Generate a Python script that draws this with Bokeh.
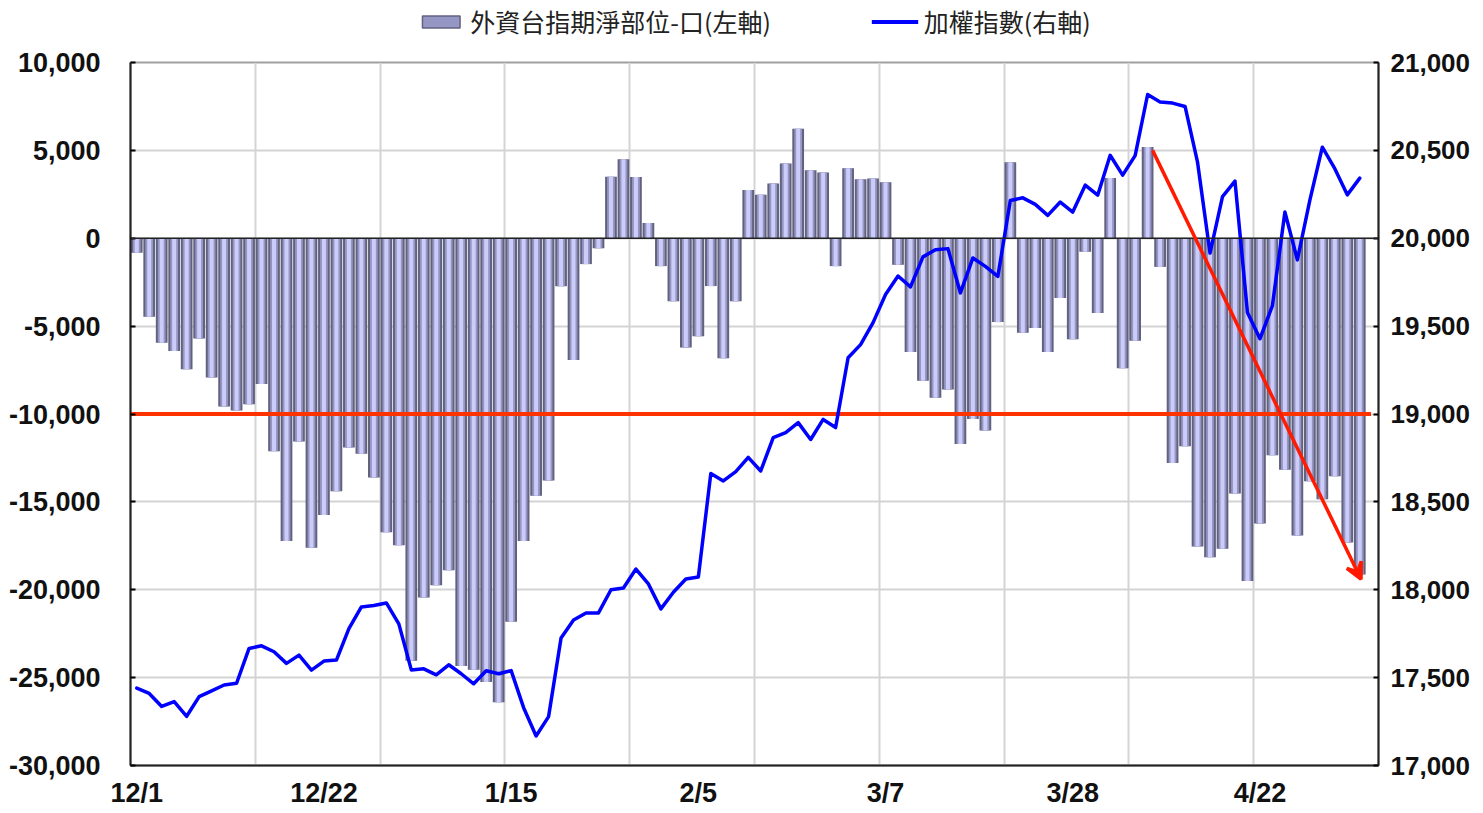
from bokeh.plotting import figure
from bokeh.layouts import column
from bokeh.models import (Range1d, LinearAxis, FixedTicker, NumeralTickFormatter,
                          Legend, LegendItem, Span, Arrow, VeeHead, ColumnDataSource)
from bokeh.embed import file_html
from bokeh.resources import INLINE

# ---------------- data ----------------
tick_labels = ["12/1", "12/22", "1/15", "2/5", "3/7", "3/28", "4/22"]
tick_index = [0, 15, 30, 45, 60, 75, 90]
n_slots = 100  # category slots on the x axis (last one empty)

futures_net = [
    -830, -4460, -5940, -6410, -7450, -5710, -7920, -9570, -9800, -9440,
    -8300, -12120, -17230, -11560, -17610, -15750, -14390, -11900, -12260, -13620,
    -16730, -17470, -24040, -20440, -19740, -18890, -24340, -24550, -25250, -26400,
    -21820, -17230, -14650, -13780, -2730, -6930, -1470, -570, 3500, 4490,
    3490, 870, -1585, -3585, -6210, -5570, -2720, -6830, -3585, 2740,
    2470, 3110, 4250, 6230, 3870, 3740, -1585, 3980, 3360, 3400,
    3190, -1510, -6470, -8110, -9080, -8600, -11700, -10280, -10940, -4770,
    4320, -5380, -5110, -6470, -3400, -5750, -770, -4250, 3430, -7400,
    -5830, 5190, -1630, -12790, -11830, -17540, -18150, -17670, -14520, -19500,
    -16230, -12350, -13170, -16920, -13830, -14850, -13540, -17310, -19130,
]

taiex = [
    17440, 17410, 17336, 17364, 17280, 17392, 17425, 17458, 17468, 17666,
    17681, 17647, 17581, 17628, 17543, 17594, 17600, 17779, 17902, 17910,
    17925, 17806, 17544, 17550, 17516, 17573, 17522, 17465, 17539, 17522,
    17540, 17329, 17168, 17278, 17726, 17828, 17868, 17868, 18000, 18010,
    18118, 18033, 17891, 17986, 18061, 18072, 18662, 18619, 18672, 18753,
    18676, 18866, 18894, 18951, 18855, 18969, 18923, 19320, 19395, 19520,
    19680, 19785, 19723, 19894, 19935, 19941, 19689, 19888, 19840, 19783,
    20215, 20230, 20193, 20130, 20206, 20149, 20302, 20245, 20472, 20359,
    20470, 20818, 20775, 20769, 20750, 20433, 19916, 20237, 20325, 19578,
    19428, 19617, 20149, 19877, 20217, 20518, 20396, 20247, 20342,
]

threshold = -10000
arrow_from = (81.4, 5000)
arrow_to = (98.1, -19400)

left_ticks = [-30000, -25000, -20000, -15000, -10000, -5000, 0, 5000, 10000]
right_ticks = [17000, 17500, 18000, 18500, 19000, 19500, 20000, 20500, 21000]

bar_label = "外資台指期淨部位-口(左軸)"
line_label = "加權指數(右軸)"

BAR_DARK, BAR_MID, BAR_LIGHT = "#62627f", "#9696c4", "#ccccfa"
LINE_BLUE = "#0000ff"

FIG_W = 1480

# ---------------- legend strip ----------------
lf = figure(width=FIG_W, height=42, output_backend="svg", toolbar_location=None,
            x_range=Range1d(0, 1), y_range=Range1d(0, 1), min_border=0)
lf.axis.visible = False
lf.grid.visible = False
lf.outline_line_color = None
lf.background_fill_color = "white"
lf.border_fill_color = "white"
# off-screen proxies so that the legend can draw its swatches
lg_bar = lf.rect(x=[5], y=[5], width=1, height=1, fill_color=BAR_MID,
                 line_color=BAR_DARK, line_width=1.5)
lg_line = lf.line(x=[5, 6], y=[5, 5], line_color=LINE_BLUE, line_width=4)
legend = Legend(items=[LegendItem(label=bar_label, renderers=[lg_bar]),
                       LegendItem(label=line_label, renderers=[lg_line])],
                orientation="horizontal", location="center",
                label_text_font="Noto Sans CJK TC", label_text_font_size="25px",
                label_text_color="#222222", glyph_width=47, glyph_height=15,
                spacing=100, label_standoff=6, border_line_color=None,
                background_fill_alpha=0, padding=0, margin=0)
lf.add_layout(legend, "center")

# ---------------- main chart ----------------
src = ColumnDataSource(dict(x=list(range(len(futures_net))), net=futures_net,
                            idx=taiex))

p = figure(width=FIG_W, height=768, output_backend="svg", toolbar_location=None,
           x_range=Range1d(-0.5, n_slots - 0.5),
           y_range=Range1d(left_ticks[0], left_ticks[-1]),
           min_border_left=130, min_border_right=FIG_W - 130 - 1248,
           min_border_top=20, min_border_bottom=43)
p.extra_y_ranges = {"idx": Range1d(right_ticks[0], right_ticks[-1])}

p.background_fill_color = "white"
p.border_fill_color = "white"
p.outline_line_color = "#a0a0a0"
p.outline_line_width = 2

tick_font = "Liberation Sans"

def style_axis(ax, standoff, size="27px"):
    ax.major_label_text_font = tick_font
    ax.major_label_text_font_style = "bold"
    ax.major_label_text_font_size = size
    ax.major_label_text_color = "#111111"
    ax.major_label_standoff = standoff
    ax.minor_tick_line_color = None
    ax.axis_line_color = "#222222"
    ax.axis_line_width = 2
    ax.major_tick_line_width = 2

ya = p.yaxis[0]
ya.ticker = FixedTicker(ticks=left_ticks)
ya.formatter = NumeralTickFormatter(format="0,0")
style_axis(ya, 30)
ya.major_tick_in = 5
ya.major_tick_out = 0

ra = LinearAxis(y_range_name="idx", ticker=FixedTicker(ticks=right_ticks),
                formatter=NumeralTickFormatter(format="0,0"))
style_axis(ra, 12, "26px")
ra.major_tick_in = 5
ra.major_tick_out = 0
p.add_layout(ra, "right")

xa = p.xaxis[0]
xa.ticker = FixedTicker(ticks=tick_index)
xa.major_label_overrides = {i: s for i, s in zip(tick_index, tick_labels)}
style_axis(xa, 12)
xa.major_tick_in = 0
xa.major_tick_out = 0

p.xgrid.ticker = FixedTicker(ticks=[-0.5 + 10 * k for k in range(1, 10)])
p.xgrid.grid_line_color = "#d4d4d4"
p.xgrid.grid_line_width = 2
p.ygrid.ticker = FixedTicker(ticks=left_ticks)
p.ygrid.grid_line_color = "#d4d4d4"
p.ygrid.grid_line_width = 2

# bars (layered to mimic the cylinder shading)
p.vbar(x="x", top="net", bottom=0, width=0.94, source=src,
       fill_color=BAR_DARK, line_color=None)
p.vbar(x="x", top="net", bottom=0, width=0.62, source=src,
       fill_color=BAR_MID, line_color=None)
p.vbar(x="x", top="net", bottom=0, width=0.32, source=src,
       fill_color=BAR_LIGHT, line_color=None)

p.add_layout(Span(location=0, dimension="width", line_color="#222222",
                  line_width=1.5))

p.segment(x0=-0.5, x1=len(futures_net) - 0.1, y0=threshold, y1=threshold,
          line_color="#ff3300", line_width=4)

p.line(x="x", y="idx", source=src, y_range_name="idx", line_color=LINE_BLUE,
       line_width=3.5, line_join="round", line_cap="round")

p.add_layout(Arrow(x_start=arrow_from[0], y_start=arrow_from[1],
                   x_end=arrow_to[0], y_end=arrow_to[1],
                   line_color="#ff1a00", line_width=3.5,
                   end=VeeHead(size=16, line_color="#ff1a00", line_width=3.5,
                               fill_color="#ff1a00")))

layout = column(lf, p, spacing=0)
open("out.html", "w").write(file_html(layout, INLINE))
